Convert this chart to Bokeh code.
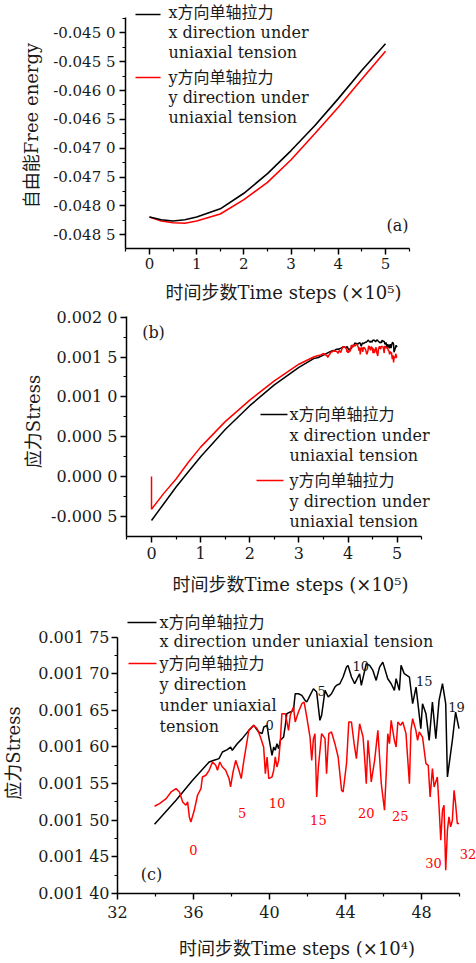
from bokeh.plotting import figure
from bokeh.models import (Range1d, FixedTicker, CustomJSTickFormatter, Label, LabelSet,
                          ColumnDataSource, Arrow)
from bokeh.embed import file_html
from bokeh.resources import INLINE
from bokeh.core.properties import value

# ---------------- data ----------------
# (a) free energy vs time steps (x1e5)
time_a = [0.0, 0.25, 0.5, 0.75, 1.0, 1.5, 2.0, 2.5, 3.0, 3.5, 4.0, 4.5, 5.0]
energy_x = [-0.04819, -0.04824, -0.04826, -0.04824, -0.04819, -0.04805, -0.04778,
            -0.04744, -0.04704, -0.04661, -0.04614, -0.04565, -0.04519]
energy_y = [-0.04819, -0.04826, -0.04829, -0.04830, -0.04826, -0.04814, -0.04789,
            -0.04759, -0.04720, -0.04675, -0.04629, -0.04580, -0.04532]

# (b) early smooth part of stress vs time steps (x1e5)
time_b_x = [0.0, 0.25, 0.5, 0.75, 1.0, 1.5, 2.0, 2.5, 3.0, 3.3]
stress_b_x = [-0.00055, -0.00034, -0.00013, 0.00006, 0.00025, 0.00059, 0.00089,
              0.00115, 0.00137, 0.00148]
time_b_y = [0.0, 0.0, 0.25, 0.5, 0.75, 1.0, 1.5, 2.0, 2.5, 3.0, 3.3]
stress_b_y = [0.0, -0.00041, -0.00021, -0.00003, 0.00018, 0.00037, 0.00069, 0.00096,
              0.00120, 0.00141, 0.00150]

# (c) stress vs time steps (x1e4), detail of the late part
time_c_x = [33.95, 35.08, 35.95, 36.82, 37.08, 37.34, 37.52, 37.78, 37.95, 38.04,
            38.30, 38.56, 38.91, 39.17, 39.43, 39.61, 39.70, 39.87, 39.96, 40.13,
            40.22, 40.30, 40.39, 40.48, 40.57, 40.74, 40.83, 40.91, 41.09, 41.26,
            41.35, 41.52, 41.70, 41.87, 41.96, 42.13, 42.31, 42.48, 42.65, 42.74,
            42.92, 43.09, 43.26, 43.44, 43.52, 43.70, 43.87, 44.05, 44.13, 44.31,
            44.48, 44.74, 44.83, 45.09, 45.27, 45.44, 45.61, 45.79, 45.96, 46.22,
            46.40, 46.57, 46.66, 46.83, 46.92, 47.09, 47.36, 47.53, 47.71, 47.96,
            48.05, 48.23, 48.40, 48.57, 48.75, 48.92, 49.10, 49.27, 49.36, 49.62,
            49.79, 49.97]
stress_c_x = [1.4945e-3, 1.5273e-3, 1.5545e-3, 1.5795e-3, 1.5818e-3, 1.5841e-3, 1.5932e-3, 1.5964e-3, 1.6000e-3, 1.5955e-3,
              1.6045e-3, 1.6114e-3, 1.6227e-3, 1.6295e-3, 1.6205e-3, 1.6182e-3, 1.6273e-3, 1.6295e-3, 1.6136e-3, 1.5886e-3,
              1.6000e-3, 1.5955e-3, 1.6045e-3, 1.5977e-3, 1.6091e-3, 1.6136e-3, 1.6295e-3, 1.6455e-3, 1.6477e-3, 1.6500e-3,
              1.6727e-3, 1.6727e-3, 1.6705e-3, 1.6636e-3, 1.6614e-3, 1.6705e-3, 1.6795e-3, 1.6750e-3, 1.6364e-3, 1.6432e-3,
              1.6773e-3, 1.6682e-3, 1.6727e-3, 1.6818e-3, 1.6841e-3, 1.6864e-3, 1.6955e-3, 1.7091e-3, 1.7114e-3, 1.6955e-3,
              1.6864e-3, 1.7000e-3, 1.6841e-3, 1.7136e-3, 1.7114e-3, 1.7045e-3, 1.6909e-3, 1.7091e-3, 1.7159e-3, 1.6932e-3,
              1.6864e-3, 1.6773e-3, 1.6932e-3, 1.6773e-3, 1.7114e-3, 1.7000e-3, 1.6955e-3, 1.6591e-3, 1.6818e-3, 1.6250e-3,
              1.6591e-3, 1.6455e-3, 1.6091e-3, 1.6614e-3, 1.6114e-3, 1.6636e-3, 1.6864e-3, 1.6591e-3, 1.5591e-3, 1.6091e-3,
              1.6477e-3, 1.6250e-3]
time_c_y = [33.95, 34.21, 34.56, 34.82, 35.08, 35.26, 35.43, 35.60, 35.69, 35.78,
            35.86, 36.04, 36.21, 36.39, 36.47, 36.65, 36.82, 37.00, 37.17, 37.26,
            37.38, 37.52, 37.69, 37.87, 37.95, 38.08, 38.22, 38.39, 38.51, 38.65,
            38.91, 39.17, 39.35, 39.52, 39.69, 39.78, 39.87, 39.96, 40.13, 40.22,
            40.30, 40.39, 40.48, 40.57, 40.65, 40.83, 41.00, 41.09, 41.26, 41.35,
            41.52, 41.70, 41.82, 41.96, 42.13, 42.22, 42.31, 42.39, 42.48, 42.57,
            42.74, 42.92, 43.00, 43.12, 43.26, 43.44, 43.61, 43.79, 43.87, 44.05,
            44.17, 44.31, 44.45, 44.57, 44.74, 44.92, 45.00, 45.09, 45.18, 45.27,
            45.35, 45.53, 45.70, 45.88, 46.05, 46.14, 46.22, 46.31, 46.40, 46.57,
            46.66, 46.75, 46.89, 47.01, 47.18, 47.27, 47.36, 47.44, 47.53, 47.70,
            47.79, 47.88, 48.05, 48.23, 48.35, 48.45, 48.57, 48.66, 48.83, 48.92,
            49.01, 49.10, 49.18, 49.27, 49.36, 49.44, 49.53, 49.62, 49.71, 49.79,
            49.88, 49.97]
stress_c_y = [1.5191e-3, 1.5227e-3, 1.5295e-3, 1.5386e-3, 1.5432e-3, 1.5386e-3, 1.5250e-3, 1.5205e-3, 1.5250e-3, 1.5045e-3,
              1.4977e-3, 1.5136e-3, 1.5341e-3, 1.5432e-3, 1.5591e-3, 1.5614e-3, 1.5682e-3, 1.5795e-3, 1.5750e-3, 1.5682e-3,
              1.5795e-3, 1.5727e-3, 1.5682e-3, 1.5568e-3, 1.5455e-3, 1.5659e-3, 1.5818e-3, 1.5682e-3, 1.5568e-3, 1.5818e-3,
              1.6227e-3, 1.6295e-3, 1.6250e-3, 1.6136e-3, 1.6000e-3, 1.5636e-3, 1.5864e-3, 1.5568e-3, 1.5591e-3, 1.5682e-3,
              1.5864e-3, 1.5727e-3, 1.5818e-3, 1.6091e-3, 1.6455e-3, 1.6455e-3, 1.6227e-3, 1.6432e-3, 1.6545e-3, 1.6341e-3,
              1.6477e-3, 1.6591e-3, 1.6614e-3, 1.6409e-3, 1.6136e-3, 1.5818e-3, 1.6114e-3, 1.6182e-3, 1.5318e-3, 1.5727e-3,
              1.6182e-3, 1.6114e-3, 1.5636e-3, 1.6182e-3, 1.6205e-3, 1.6045e-3, 1.5864e-3, 1.5409e-3, 1.5386e-3, 1.5773e-3,
              1.6341e-3, 1.6341e-3, 1.6045e-3, 1.5841e-3, 1.6318e-3, 1.6136e-3, 1.5864e-3, 1.5500e-3, 1.6091e-3, 1.5818e-3,
              1.5523e-3, 1.5818e-3, 1.6227e-3, 1.5500e-3, 1.5136e-3, 1.5636e-3, 1.6182e-3, 1.6045e-3, 1.6364e-3, 1.6091e-3,
              1.6000e-3, 1.6341e-3, 1.6295e-3, 1.6341e-3, 1.6182e-3, 1.5841e-3, 1.5500e-3, 1.6227e-3, 1.6386e-3, 1.6227e-3,
              1.6091e-3, 1.6205e-3, 1.6136e-3, 1.5773e-3, 1.5750e-3, 1.5318e-3, 1.5705e-3, 1.5455e-3, 1.5591e-3, 1.5182e-3,
              1.4727e-3, 1.5136e-3, 1.5205e-3, 1.4318e-3, 1.4864e-3, 1.5045e-3, 1.4909e-3, 1.5000e-3, 1.5409e-3, 1.5227e-3,
              1.4955e-3, 1.4955e-3]

# numbered markers in (c)
num_x_pos = [40.0, 42.74, 44.8, 48.14, 49.84]
num_x_val = [0.00163, 0.001676, 0.00171, 0.00169, 0.001655]
num_x_txt = ["0", "5", "10", "15", "19"]
num_y_pos = [35.99, 38.56, 40.39, 42.57, 45.09, 46.88, 48.63, 50.44]
num_y_val = [0.001459, 0.00151, 0.001524, 0.001501, 0.00151, 0.001506, 0.001441, 0.001454]
num_y_txt = ["0", "5", "10", "15", "20", "25", "30", "32"]

# ticks
ticks_t5 = [0, 1, 2, 3, 4, 5]
minor_t5 = [-0.5, 0.5, 1.5, 2.5, 3.5, 4.5, 5.5]
ticks_a = [-0.0485, -0.048, -0.0475, -0.047, -0.0465, -0.046, -0.0455, -0.045]
minor_a = [-0.04825, -0.04775, -0.04725, -0.04675, -0.04625, -0.04575, -0.04525, -0.04475]
ticks_b = [-0.0005, 0.0, 0.0005, 0.001, 0.0015, 0.002]
minor_b = [-0.00025, 0.00025, 0.00075, 0.00125, 0.00175]
ticks_c = [0.0014, 0.00145, 0.0015, 0.00155, 0.0016, 0.00165, 0.0017, 0.00175]
minor_c = [0.001425, 0.001475, 0.001525, 0.001575, 0.001625, 0.001675, 0.001725]
ticks_t4 = [32, 36, 40, 44, 48]
minor_t4 = [34, 38, 42, 46, 50]

legend_x = ["x方向单轴拉力", "x direction under", "uniaxial tension"]
legend_y = ["y方向单轴拉力", "y direction under", "uniaxial tension"]
legend_c = ["x方向单轴拉力", "x direction under uniaxial tension",
            "y方向单轴拉力", "y direction", "under uniaxial", "tension"]
xlabel5 = "时间步数Time steps (×10⁵)"
xlabel4 = "时间步数Time steps (×10⁴)"
ylabel_a = "自由能Free energy"
ylabel_s = "应力Stress"

FONT = "'DejaVu Serif', 'Noto Sans CJK SC', serif"
TXT = "#1a1a1a"
RED = "#ff0000"


def make_fig(w, h, xr, yr, borders, xb, yb):
    p = figure(width=w, height=h, x_range=Range1d(*xr), y_range=Range1d(*yr),
               output_backend="svg", toolbar_location=None,
               min_border_left=borders[0], min_border_right=borders[1],
               min_border_top=borders[2], min_border_bottom=borders[3])
    p.outline_line_color = None
    p.xgrid.visible = False
    p.ygrid.visible = False
    p.xaxis.bounds = xb
    p.yaxis.bounds = yb
    for ax in (p.xaxis[0], p.yaxis[0]):
        ax.axis_line_width = 1.5
        ax.axis_line_color = "black"
        ax.major_tick_line_width = 1.5
        ax.major_tick_line_color = "black"
        ax.minor_tick_line_width = 1.2
        ax.minor_tick_line_color = "black"
        ax.major_tick_in = 0
        ax.major_tick_out = 6
        ax.minor_tick_in = 0
        ax.minor_tick_out = 3
        ax.major_label_text_font = FONT
        ax.major_label_text_color = TXT
        ax.axis_label_text_font = FONT
        ax.axis_label_text_font_style = "normal"
        ax.axis_label_text_color = TXT
        ax.axis_label_text_font_size = "18px"
    return p


def text(p, xs, ys, t, size, color=TXT, align="left"):
    p.add_layout(Label(x=xs, y=ys, x_units="screen", y_units="screen", text=t,
                       text_font=FONT, text_font_size=f"{size}px", text_color=color,
                       text_align=align, text_baseline="middle"))


def seg(p, x0, x1, y, color):
    p.add_layout(Arrow(end=None, x_start=x0, y_start=y, x_end=x1, y_end=y,
                       start_units="screen", end_units="screen",
                       line_color=color, line_width=1.6))


fmt4 = CustomJSTickFormatter(code="const s = tick.toFixed(4); return s.slice(0, -1) + ' ' + s.slice(-1);")
fmt5 = CustomJSTickFormatter(code="const s = tick.toFixed(5); return s.slice(0, -2) + ' ' + s.slice(-2);")

# ---------------- panel (a) ----------------
pa = make_fig(476, 306, (-0.508, 6.186), (-0.048737, -0.0444745), (125, 35, 2, 58),
              (-0.51, 5.51), (-0.04874, -0.04473))
pa.xaxis.ticker = FixedTicker(ticks=ticks_t5, minor_ticks=minor_t5)
pa.yaxis.ticker = FixedTicker(ticks=ticks_a, minor_ticks=minor_a)
pa.yaxis.formatter = fmt4
pa.yaxis.major_label_text_font_size = "15px"
pa.xaxis.major_label_text_font_size = "15px"
pa.yaxis.major_label_standoff = 4
pa.xaxis.major_label_standoff = 3
pa.yaxis.axis_label = ylabel_a
pa.xaxis.axis_label = xlabel5
pa.yaxis.axis_label_standoff = 8
pa.xaxis.axis_label_standoff = 10
pa.line(time_a, energy_y, line_color=RED, line_width=1.6)
pa.line(time_a, energy_x, line_color="black", line_width=1.6)
seg(pa, 10, 35, 234, "black")
seg(pa, 10, 35, 171, RED)
for i, t in enumerate(legend_x):
    text(pa, 43, 236 - 20 * i, t, 16)
for i, t in enumerate(legend_y):
    text(pa, 43, 171 - 20 * i, t, 16)
text(pa, 272, 23, "(a)", 16, align="center")

# ---------------- panel (b) ----------------
pb = make_fig(476, 292, (-0.509, 6.167), (-0.000751, 0.0021338), (126, 22, 0, 62),
              (-0.51, 5.49), (-0.00075, 0.00201))
pb.xaxis.ticker = FixedTicker(ticks=ticks_t5, minor_ticks=minor_t5)
pb.yaxis.ticker = FixedTicker(ticks=ticks_b, minor_ticks=minor_b)
pb.yaxis.formatter = fmt4
pb.yaxis.major_label_text_font_size = "16px"
pb.xaxis.major_label_text_font_size = "16px"
pb.yaxis.major_label_standoff = 3
pb.xaxis.major_label_standoff = 4
pb.yaxis.axis_label = ylabel_s
pb.xaxis.axis_label = xlabel5
pb.yaxis.axis_label_standoff = 4
pb.xaxis.axis_label_standoff = 12
tbx = time_b_x + [t / 10 for t in time_c_x]
sbx = stress_b_x + stress_c_x
tby = time_b_y + [t / 10 for t in time_c_y]
sby = stress_b_y + stress_c_y
pb.line(tbx, sbx, line_color="black", line_width=1.5)
pb.line(tby, sby, line_color=RED, line_width=1.5)
seg(pb, 134, 161, 122, "black")
seg(pb, 130, 157, 56, RED)
for i, t in enumerate(legend_x):
    text(pb, 163, 122 - 20.5 * i, t, 16)
for i, t in enumerate(legend_y):
    text(pb, 163, 56 - 20.5 * i, t, 16)
text(pb, 27, 204, "(b)", 16, align="center")

# ---------------- panel (c) ----------------
pc = make_fig(476, 364, (32, 50.89), (0.0014, 0.0017836), (114, 0, 14, 69),
              (32, 50), (0.0014, 0.00175))
pc.xaxis.ticker = FixedTicker(ticks=ticks_t4, minor_ticks=minor_t4)
pc.yaxis.ticker = FixedTicker(ticks=ticks_c, minor_ticks=minor_c)
pc.yaxis.formatter = fmt5
pc.yaxis.major_label_text_font_size = "16px"
pc.xaxis.major_label_text_font_size = "16px"
pc.yaxis.major_label_standoff = 2
pc.xaxis.major_label_standoff = 6
pc.yaxis.axis_label = ylabel_s
pc.xaxis.axis_label = xlabel4
pc.yaxis.axis_label_standoff = 11
pc.xaxis.axis_label_standoff = 17
pc.line(time_c_x, stress_c_x, line_color="black", line_width=1.5)
pc.line(time_c_y, stress_c_y, line_color=RED, line_width=1.5)
src_nx = ColumnDataSource(dict(x=num_x_pos, y=num_x_val, t=num_x_txt))
src_ny = ColumnDataSource(dict(x=num_y_pos, y=num_y_val, t=num_y_txt))
pc.add_layout(LabelSet(x="x", y="y", text="t", source=src_nx, text_font=value(FONT),
                       text_font_size="13px", text_color=TXT, text_align="center",
                       text_baseline="middle"))
pc.add_layout(LabelSet(x="x", y="y", text="t", source=src_ny, text_font=value(FONT),
                       text_font_size="13px", text_color=RED, text_align="center",
                       text_baseline="middle"))
seg(pc, 10, 39, 271, "black")
seg(pc, 11, 39, 230, RED)
legend_c_y = [271, 252, 230, 209, 188, 167.5]
for t, ys in zip(legend_c, legend_c_y):
    text(pc, 42, ys, t, 16)
text(pc, 34, 19, "(c)", 16, align="center")

open("out.html", "w").write(file_html([pa, pb, pc], INLINE))
